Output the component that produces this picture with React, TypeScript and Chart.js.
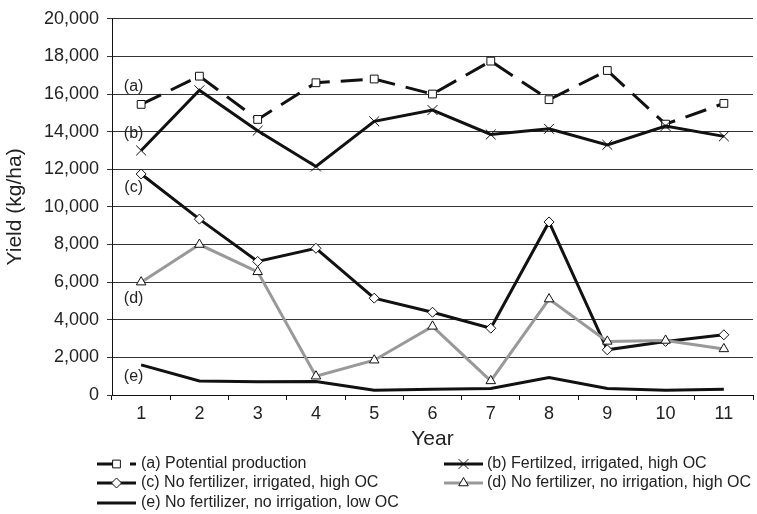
import React, { useEffect, useRef } from 'react';
import { Chart, registerables } from 'chart.js';

Chart.register(...registerables);

const years = ['1', '2', '3', '4', '5', '6', '7', '8', '9', '10', '11'];
const potential = [15450, 16950, 14650, 16600, 16800, 16000, 17750, 15700, 17250, 14400, 15500];
const fertIrrHighOC = [13000, 16200, 14050, 12150, 14550, 15150, 13850, 14150, 13300, 14300, 13750];
const noFertIrrHighOC = [11750, 9350, 7100, 7800, 5150, 4400, 3550, 9200, 2400, 2850, 3200];
const noFertNoIrrHighOC = [6000, 8000, 6550, 1000, 1850, 3650, 750, 5100, 2850, 2900, 2450];
const noFertNoIrrLowOC = [1600, 750, 700, 720, 250, 300, 350, 930, 350, 250, 300];

const seriesNames = [
  '(a) Potential production',
  '(b) Fertilzed, irrigated, high OC',
  '(c) No fertilizer, irrigated, high OC',
  '(d) No fertilizer, no irrigation, high OC',
  '(e) No fertilizer, no irrigation, low OC',
];
const seriesTags = ['(a)', '(b)', '(c)', '(d)', '(e)'];
const tagValues = [16400, 13900, 11000, 5150, 1000];

const yMin = 0;
const yMax = 20000;
const yStep = 2000;

const FONT = "'Liberation Sans', Arial, sans-serif";

type Marker = 'rect' | 'crossRot' | 'rectRot' | 'triangle' | false;

function drawMarker(ctx: CanvasRenderingContext2D, style: Marker, x: number, y: number, r: number) {
  if (!style) return;
  ctx.save();
  ctx.lineWidth = 1;
  ctx.strokeStyle = '#111';
  ctx.fillStyle = '#fff';
  ctx.setLineDash([]);
  ctx.beginPath();
  if (style === 'rect') {
    const s = Math.SQRT1_2 * r;
    ctx.rect(x - s, y - s, 2 * s, 2 * s);
    ctx.fill();
    ctx.stroke();
  } else if (style === 'rectRot') {
    ctx.moveTo(x, y - r);
    ctx.lineTo(x + r, y);
    ctx.lineTo(x, y + r);
    ctx.lineTo(x - r, y);
    ctx.closePath();
    ctx.fill();
    ctx.stroke();
  } else if (style === 'triangle') {
    const a = (2 * Math.PI) / 3;
    ctx.moveTo(x, y - r);
    ctx.lineTo(x + Math.sin(a) * r, y - Math.cos(a) * r);
    ctx.lineTo(x + Math.sin(2 * a) * r, y - Math.cos(2 * a) * r);
    ctx.closePath();
    ctx.fill();
    ctx.stroke();
  } else if (style === 'crossRot') {
    const o = Math.SQRT1_2 * r;
    ctx.moveTo(x - o, y - o);
    ctx.lineTo(x + o, y + o);
    ctx.moveTo(x - o, y + o);
    ctx.lineTo(x + o, y - o);
    ctx.stroke();
  }
  ctx.restore();
}

const legendSlots = [
  { sx: 97, tx: 141, y: 464 },
  { sx: 444, tx: 487, y: 464 },
  { sx: 97, tx: 141, y: 483 },
  { sx: 444, tx: 487, y: 483 },
  { sx: 97, tx: 141, y: 503 },
];
const sampleLen = 39;

const customPlugin = {
  id: 'customDecor',
  afterDraw(chart: any) {
    const ctx: CanvasRenderingContext2D = chart.ctx;
    const xs = chart.scales.x;
    const ys = chart.scales.y;
    // series tags
    ctx.save();
    ctx.font = `16px ${FONT}`;
    ctx.fillStyle = '#222';
    ctx.textAlign = 'center';
    ctx.textBaseline = 'middle';
    seriesTags.forEach((t, i) => {
      ctx.fillText(t, xs.getPixelForValue(0) - 7.5, ys.getPixelForValue(tagValues[i]));
    });
    ctx.restore();
    // legend
    chart.data.datasets.forEach((ds: any, i: number) => {
      const slot = legendSlots[i];
      ctx.save();
      ctx.strokeStyle = ds.borderColor;
      ctx.lineWidth = ds.borderWidth;
      ctx.setLineDash(ds.borderDash || []);
      ctx.beginPath();
      ctx.moveTo(slot.sx, slot.y);
      ctx.lineTo(slot.sx + sampleLen, slot.y);
      ctx.stroke();
      ctx.restore();
      drawMarker(ctx, ds.pointStyle, slot.sx + sampleLen / 2, slot.y, ds.pointRadius);
      ctx.save();
      ctx.font = `16px ${FONT}`;
      ctx.fillStyle = '#222';
      ctx.textAlign = 'left';
      ctx.textBaseline = 'middle';
      ctx.fillText(seriesNames[i], slot.tx, slot.y);
      ctx.restore();
    });
  },
};

export default function App() {
  const ref = useRef<HTMLCanvasElement | null>(null);
  useEffect(() => {
    if (!ref.current) return;
    const mk = (data: number[], color: string, style: Marker, radius: number, order: number, dash?: number[]) => ({
      data,
      borderColor: color,
      backgroundColor: '#fff',
      borderWidth: 3,
      borderDash: dash || [],
      pointStyle: style,
      pointRadius: style ? radius : 0,
      pointBorderColor: '#111',
      pointBackgroundColor: '#fff',
      pointBorderWidth: 1,
      tension: 0,
      order,
    });
    const chart = new Chart(ref.current, {
      type: 'line',
      data: {
        labels: years,
        datasets: [
          mk(potential, '#111', 'rect', 5.5, 1, [22, 11]),
          mk(fertIrrHighOC, '#111', 'crossRot', 7, 0),
          mk(noFertIrrHighOC, '#111', 'rectRot', 5, 3),
          mk(noFertNoIrrHighOC, '#999', 'triangle', 5.5, 2),
          mk(noFertNoIrrLowOC, '#111', false, 0, 4),
        ] as any,
      },
      options: {
        animation: false,
        responsive: false,
        devicePixelRatio: 1,
        layout: { padding: { top: 15, right: 0, bottom: 62, left: 0 } },
        plugins: { legend: { display: false }, tooltip: { enabled: false } },
        scales: {
          x: {
            type: 'category',
            offset: true,
            grid: { drawOnChartArea: false, offset: true, tickLength: 5, color: '#111', lineWidth: 1 },
            border: { color: '#111', width: 1 },
            ticks: { color: '#222', font: { family: FONT, size: 18 }, padding: 3, maxRotation: 0, autoSkip: false },
            title: { display: true, text: 'Year', color: '#222', font: { family: FONT, size: 21 }, padding: { top: 0, bottom: 0 } },
            afterFit: (s: any) => { s.height = 57; },
          },
          y: {
            min: yMin,
            max: yMax,
            ticks: {
              stepSize: yStep,
              color: '#222',
              font: { family: FONT, size: 18 },
              padding: 8,
              callback: (v: any) => Number(v).toLocaleString('en-US'),
            },
            grid: { color: '#333', lineWidth: 1, tickLength: 5 },
            border: { color: '#111', width: 1 },
            title: { display: true, text: 'Yield (kg/ha)', color: '#222', font: { family: FONT, size: 21 }, padding: { top: 3, bottom: 0 } },
            afterFit: (s: any) => { s.width = 112; },
          },
        },
      } as any,
      plugins: [customPlugin],
    });
    return () => chart.destroy();
  }, []);
  return (
    <div style={{ position: 'fixed', left: 0, top: 0, width: 757, height: 514, overflow: 'hidden', background: '#fff' }}>
      <canvas ref={ref} width={761} height={514} style={{ display: 'block' }} />
    </div>
  );
}
